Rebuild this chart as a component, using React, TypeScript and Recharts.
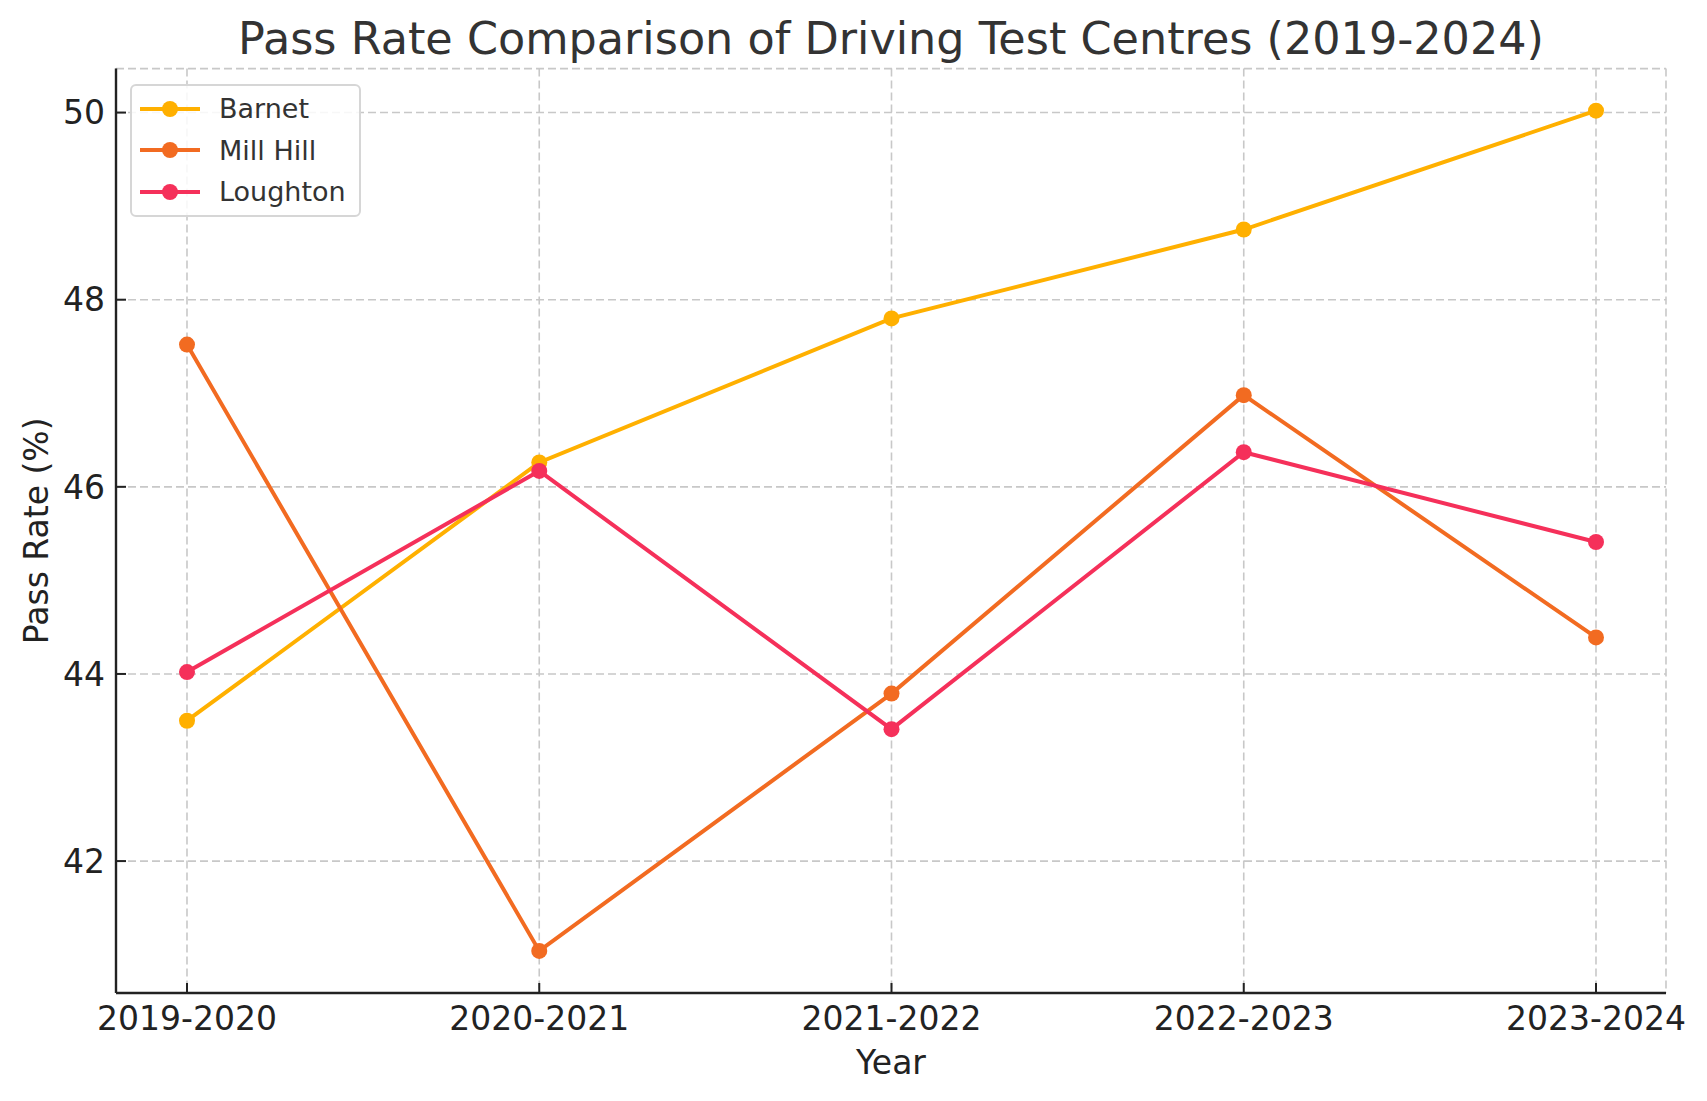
import React from 'react';
import { LineChart, Line, XAxis, YAxis, CartesianGrid, Legend } from 'recharts';

const years = ['2019-2020', '2020-2021', '2021-2022', '2022-2023', '2023-2024'];
const barnet = [43.5, 46.26, 47.8, 48.75, 50.02];
const millHill = [47.52, 41.04, 43.79, 46.98, 44.39];
const loughton = [44.02, 46.17, 43.41, 46.37, 45.41];
const yTicks = [42, 44, 46, 48, 50];

const series = [
  { key: 'barnet', name: 'Barnet', color: '#ffb000' },
  { key: 'millHill', name: 'Mill Hill', color: '#f26b21' },
  { key: 'loughton', name: 'Loughton', color: '#f5305a' },
];

const data = years.map((year, i) => ({
  year,
  barnet: barnet[i],
  millHill: millHill[i],
  loughton: loughton[i],
}));

const FONT = '"DejaVu Sans", sans-serif';
const axisText = { fill: '#222', fontSize: 33, fontFamily: FONT };

function LegendBox() {
  return (
    <div
      style={{
        width: 231,
        height: 133,
        boxSizing: 'border-box',
        border: '2px solid #d6d6d6',
        borderRadius: 6,
        background: 'rgba(255,255,255,0.85)',
        fontFamily: FONT,
        fontSize: 27,
        color: '#333',
        paddingTop: 2,
      }}
    >
      {series.map((s) => (
        <div key={s.key} style={{ display: 'flex', alignItems: 'center', height: 41.5 }}>
          <svg width={60} height={20} style={{ marginLeft: 8, flexShrink: 0 }}>
            <line x1={0} x2={60} y1={10} y2={10} stroke={s.color} strokeWidth={4} />
            <circle cx={30} cy={10} r={8} fill={s.color} />
          </svg>
          <span style={{ marginLeft: 19 }}>{s.name}</span>
        </div>
      ))}
    </div>
  );
}

export default function App() {
  return (
    <div style={{ position: 'absolute', left: 0, top: 0, width: 1707, height: 1101, background: '#fff' }}>
      <div
        style={{
          position: 'absolute',
          left: 116,
          width: 1550,
          top: 17,
          textAlign: 'center',
          fontFamily: FONT,
          fontSize: 44.5,
          lineHeight: '44px',
          color: '#333',
          whiteSpace: 'nowrap',
        }}
      >
        Pass Rate Comparison of Driving Test Centres (2019-2024)
      </div>
      <LineChart width={1707} height={1101} data={data} margin={{ top: 68.6, right: 41, bottom: 0, left: 0 }}>
        <CartesianGrid stroke="#c8c8c8" strokeWidth={1.6} strokeDasharray="8 4" />
        <XAxis
          dataKey="year"
          height={108}
          padding={{ left: 71, right: 70 }}
          tick={axisText}
          tickSize={-10}
          tickMargin={23.6}
          tickLine={{ stroke: '#222', strokeWidth: 2 }}
          axisLine={{ stroke: '#222', strokeWidth: 2.4 }}
          interval={0}
          label={{
            content: (props: any) => {
              const vb = props.viewBox;
              return (
                <text x={vb.x + vb.width / 2} y={vb.y + 81} textAnchor="middle" fill="#222" fontSize={33} fontFamily={FONT}>
                  Year
                </text>
              );
            },
          }}
        />
        <YAxis
          width={116}
          domain={[40.59, 50.47]}
          ticks={yTicks}
          type="number"
          allowDataOverflow
          tick={axisText}
          tickSize={-10}
          tickMargin={21}
          tickLine={{ stroke: '#222', strokeWidth: 2 }}
          axisLine={{ stroke: '#222', strokeWidth: 2.4 }}
          label={{
            content: (props: any) => {
              const vb = props.viewBox;
              const cy = vb.y + vb.height / 2;
              return (
                <text x={48} y={cy} transform={`rotate(-90, 48, ${cy})`} textAnchor="middle" fill="#222" fontSize={33} fontFamily={FONT}>
                  Pass Rate (%)
                </text>
              );
            },
          }}
        />
        <Legend
          layout="vertical"
          align="center"
          verticalAlign="middle"
          wrapperStyle={{ position: 'absolute', left: 130, top: 84, width: 231, height: 133 }}
          content={() => <LegendBox />}
        />
        {series.map((s) => (
          <Line
            key={s.key}
            dataKey={s.key}
            name={s.name}
            type="linear"
            stroke={s.color}
            strokeWidth={4}
            dot={{ r: 8, fill: s.color, stroke: s.color, strokeWidth: 0 }}
            activeDot={false}
            isAnimationActive={false}
          />
        ))}
      </LineChart>
    </div>
  );
}
